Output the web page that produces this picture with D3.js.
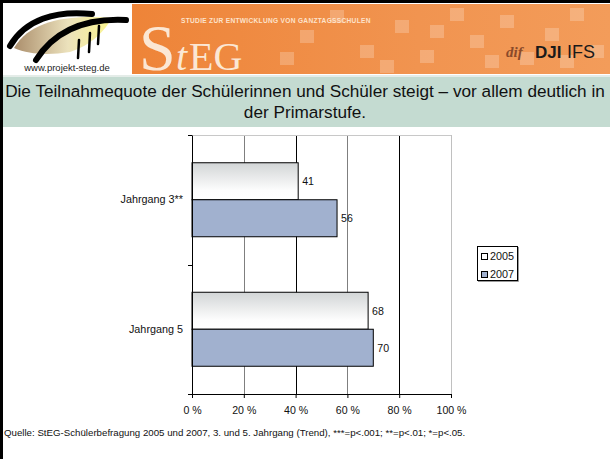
<!DOCTYPE html>
<html><head><meta charset="utf-8">
<script src="https://cdn.jsdelivr.net/npm/d3@7"></script>
<style>html,body{margin:0;padding:0;background:#fff;}svg{display:block;font-family:"Liberation Sans",Arial,sans-serif;}</style>
</head><body>
<svg id="c" width="610" height="459"></svg>
<script>
const categories = ["Jahrgang 3**", "Jahrgang 5"];
const seriesNames = ["2005", "2007"];
const values2005 = [41, 68];
const values2007 = [56, 70];
const xTicks = [0, 20, 40, 60, 80, 100];
const titleLines = ["Die Teilnahmequote der Schülerinnen und Schüler steigt – vor allem deutlich in", "der Primarstufe."];
const sourceText = "Quelle: StEG-Schülerbefragung 2005 und 2007, 3. und 5. Jahrgang (Trend), ***=p<.001; **=p<.01; *=p<.05.";

const svg = d3.select("#c");
const defs = svg.append("defs");

// ---- header ----
const og = defs.append("linearGradient").attr("id","orange").attr("x1",0).attr("x2",1).attr("y1",0).attr("y2",0);
og.append("stop").attr("offset","0%").attr("stop-color","#ee8438");
og.append("stop").attr("offset","60%").attr("stop-color","#f19450");
og.append("stop").attr("offset","100%").attr("stop-color","#f39c5a");
svg.append("rect").attr("x",3).attr("y",3).attr("width",128).attr("height",71).attr("fill","#fff");
svg.append("rect").attr("x",132).attr("y",4).attr("width",478).attr("height",70).attr("fill","url(#orange)");
const sq = [[300,30],[330,10],[360,45],[395,20],[420,50],[450,8],[470,35],[500,15],[520,52],[545,28],[570,8],[590,45],[380,60],[430,25],[560,55],[485,55],[280,52]];
svg.append("g").selectAll("rect").data(sq).join("rect")
  .attr("x",d=>d[0]).attr("y",d=>d[1]).attr("width",14).attr("height",13)
  .attr("fill","#fff").attr("opacity",0.22);
// logo
const lg = svg.append("g");
const yg = defs.append("linearGradient").attr("id","lgold").attr("x1",0).attr("x2",1);
yg.append("stop").attr("offset","0%").attr("stop-color","#9c7a52");
yg.append("stop").attr("offset","55%").attr("stop-color","#e8dcb0");
yg.append("stop").attr("offset","100%").attr("stop-color","#fbf57a");
lg.append("path").attr("d","M14,48 C30,20 70,14 112,18 C105,30 92,45 70,52 C50,55 30,55 14,48 Z").attr("fill","url(#lgold)").attr("opacity",0.85);
lg.append("path").attr("d","M10,46 C25,20 55,10 92,14").attr("fill","none").attr("stroke","#000").attr("stroke-width",6).attr("stroke-linecap","round");
lg.append("path").attr("d","M36,60 C55,30 85,18 126,20").attr("fill","none").attr("stroke","#000").attr("stroke-width",6).attr("stroke-linecap","round");
[[79,40,58],[90,33,52],[99,26,44]].forEach(p=>{
  lg.append("line").attr("x1",p[0]).attr("x2",p[0]-1).attr("y1",p[1]).attr("y2",p[2]).attr("stroke","#000").attr("stroke-width",2.5).attr("stroke-linecap","round");
});
lg.append("text").attr("x",67).attr("y",71).attr("text-anchor","middle").attr("font-size",9.5).attr("fill","#222").text("www.projekt-steg.de");
// StEG
svg.append("text").attr("x",139).attr("y",70).attr("font-family","Liberation Serif,serif").attr("font-size",66).attr("fill","#fbe7d4").text("S");
svg.append("text").attr("x",176).attr("y",70).attr("font-family","Liberation Serif,serif").attr("font-style","italic").attr("font-size",40).attr("fill","#fbe7d4").text("t");
svg.append("text").attr("x",189).attr("y",70).attr("font-family","Liberation Serif,serif").attr("font-size",40).attr("fill","#fbe7d4").text("EG");
svg.append("text").attr("x",181).attr("y",23).attr("font-size",6.6).attr("font-weight","bold").attr("letter-spacing",0.3).attr("fill","#fde3cc").text("STUDIE ZUR ENTWICKLUNG VON GANZTAGSSCHULEN");
svg.append("text").attr("x",506).attr("y",57).attr("font-family","Liberation Serif,serif").attr("font-style","italic").attr("font-weight","bold").attr("font-size",15).attr("fill","#8a4a2a").text("dif");
svg.append("text").attr("x",535).attr("y",58).attr("font-weight","bold").attr("font-size",17).attr("fill","#1a1a1a").text("DJI");
svg.append("text").attr("x",567).attr("y",58).attr("font-size",18).attr("fill","#1a1a1a").text("IFS");
// borders
svg.append("rect").attr("x",0).attr("y",0).attr("width",610).attr("height",3).attr("fill","#000");
svg.append("rect").attr("x",0).attr("y",0).attr("width",3).attr("height",459).attr("fill","#000");
svg.append("rect").attr("x",3).attr("y",75).attr("width",607).attr("height",2).attr("fill","#e4ece8");

// ---- title band ----
svg.append("rect").attr("x",3).attr("y",77).attr("width",607).attr("height",50).attr("fill","#c4dbd1");
svg.append("g").selectAll("text").data(titleLines).join("text")
  .attr("x",305).attr("y",(d,i)=>97+i*21).attr("text-anchor","middle")
  .attr("font-size",17.2).attr("fill","#111").text(d=>d);

// ---- chart ----
const x = d3.scaleLinear().domain([0,100]).range([192,451]);
const y = d3.scaleBand().domain(categories).range([135,394]);
const inner = d3.scaleBand().domain(seriesNames).range([0,y.bandwidth()]).paddingInner(0).paddingOuter(0.75);

const bg = defs.append("linearGradient").attr("id","g2005").attr("x1",0).attr("x2",0).attr("y1",0).attr("y2",1);
bg.append("stop").attr("offset","0%").attr("stop-color","#d2d5d6");
bg.append("stop").attr("offset","75%").attr("stop-color","#fdfdfd");
bg.append("stop").attr("offset","100%").attr("stop-color","#ffffff");

const gridColors = {20:"#7f7f7f",40:"#000",60:"#7f7f7f",80:"#000",100:"#c0c0c0"};
svg.append("g").selectAll("line").data(xTicks.filter(t=>t>0)).join("line")
  .attr("x1",d=>Math.round(x(d))+0.5).attr("x2",d=>Math.round(x(d))+0.5)
  .attr("y1",135).attr("y2",394).attr("stroke",d=>gridColors[d]).attr("stroke-width",1);
svg.append("line").attr("x1",192).attr("x2",451).attr("y1",135.5).attr("y2",135.5).attr("stroke","#c8c8c8");

const data = [];
categories.forEach((c,i)=>{
  data.push({cat:c, s:"2005", v:values2005[i]});
  data.push({cat:c, s:"2007", v:values2007[i]});
});
const fills = {"2005":"url(#g2005)","2007":"#a1b1cf"};
svg.append("g").selectAll("rect").data(data).join("rect")
  .attr("x",x(0)).attr("y",d=>y(d.cat)+inner(d.s))
  .attr("width",d=>x(d.v)-x(0)).attr("height",inner.bandwidth())
  .attr("fill",d=>fills[d.s]).attr("stroke","#000").attr("stroke-width",1);
svg.append("g").selectAll("text").data(data).join("text")
  .attr("x",d=>x(d.v)+4).attr("y",d=>y(d.cat)+inner(d.s)+inner.bandwidth()/2+4)
  .attr("font-size",10.6).attr("fill","#111").text(d=>d.v);

const xa = svg.append("g").attr("transform","translate(0,394)")
  .call(d3.axisBottom(x).tickValues(xTicks).tickFormat(d=>d+" %").tickSize(4).tickSizeOuter(0));
xa.select(".domain").attr("stroke","#000");
xa.selectAll("text").attr("font-size",10.6).attr("fill","#111").attr("font-family","Liberation Sans,Arial,sans-serif").attr("dy","1.2em");
const ya = svg.append("g").attr("transform","translate(192,0)")
  .call(d3.axisLeft(y).tickSize(0).tickSizeOuter(0).tickPadding(9));
ya.select(".domain").attr("stroke","#000");
ya.selectAll("text").attr("font-size",10.8).attr("fill","#111").attr("font-family","Liberation Sans,Arial,sans-serif");
const bounds = [135, y(categories[1]), 394];
svg.append("g").selectAll("line").data(bounds).join("line")
  .attr("x1",188).attr("x2",192).attr("y1",d=>Math.round(d)+0.5).attr("y2",d=>Math.round(d)+0.5).attr("stroke","#000");

const lgd = svg.append("g").attr("transform","translate(477,246)");
lgd.append("rect").attr("x",0.5).attr("y",0.5).attr("width",40).attr("height",34).attr("fill","#fff").attr("stroke","#000");
lgd.append("path").attr("d","M41.5,1 V35.5 H1").attr("fill","none").attr("stroke","#999");
seriesNames.forEach((s,i)=>{
  lgd.append("rect").attr("x",4.5).attr("y",7.5+i*18).attr("width",6).attr("height",6)
    .attr("fill",s==="2005"?"#fff":"#a1b1cf").attr("stroke","#000");
  lgd.append("text").attr("x",13).attr("y",14+i*18).attr("font-size",10.8).attr("fill","#111").text(s);
});

svg.append("text").attr("x",4).attr("y",436).attr("font-size",9.7).attr("fill","#111").text(sourceText);
</script>
</body></html>
